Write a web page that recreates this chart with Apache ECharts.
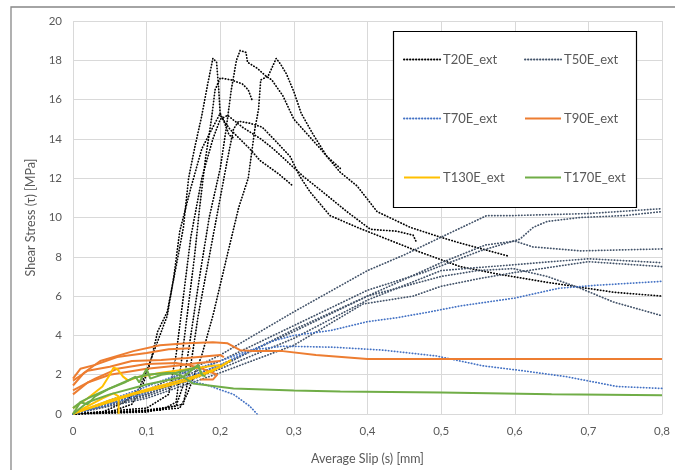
<!DOCTYPE html>
<html>
<head>
<meta charset="utf-8">
<script src="https://cdn.jsdelivr.net/npm/echarts@6/dist/echarts.min.js"></script>
<style>
  html, body { margin: 0; padding: 0; background: #ffffff; }
  #chart { width: 675px; height: 470px; }
</style>
</head>
<body>
<div id="chart"></div>
<script>
// Slip [mm] vs shear stress [MPa] for each specimen, grouped by test temperature.
const xTicks = [0, 0.1, 0.2, 0.3, 0.4, 0.5, 0.6, 0.7, 0.8];
const yTicks = [0, 2, 4, 6, 8, 10, 12, 14, 16, 18, 20];

// T20E_ext specimens
const t20_1 = [[0,0],[0.05,0.1],[0.08,0.5],[0.095,1.5],[0.105,2.6],[0.115,4.2],[0.128,5.2],[0.14,7.5],[0.15,9.5],[0.157,12],[0.165,13.5],[0.175,15.2],[0.183,16.8],[0.19,18.1],[0.195,17.9],[0.198,16.5],[0.2,15.2],[0.213,14.5],[0.24,13.5],[0.254,12.9],[0.28,12.2],[0.299,11.6]];
const t20_2 = [[0,0],[0.1,0.2],[0.14,0.4],[0.15,1.5],[0.16,4],[0.172,7],[0.185,10],[0.2,12.5],[0.208,14.5],[0.215,16.5],[0.222,18.0],[0.227,18.5],[0.235,18.4],[0.237,17.9],[0.25,17.6],[0.262,17.2],[0.27,17.0],[0.285,16.2],[0.3,15.0],[0.336,13.5],[0.363,12.3],[0.386,11.6],[0.413,10.3],[0.458,9.5],[0.499,9.0],[0.526,8.7],[0.59,8.05]];
const t20_3 = [[0,0],[0.08,0.1],[0.145,0.3],[0.155,1],[0.175,3],[0.19,5],[0.209,8],[0.225,10.5],[0.238,12],[0.247,14.5],[0.252,15.5],[0.255,17],[0.265,17.2],[0.27,17.6],[0.276,18.1],[0.282,17.8],[0.29,17.3],[0.3,16.4],[0.31,15.3],[0.325,14.3],[0.345,13.1],[0.363,12.5]];
const t20_4 = [[0,0],[0.1,0.1],[0.15,0.5],[0.16,2.5],[0.17,5],[0.185,8],[0.2,11],[0.21,13],[0.218,14.5],[0.225,14.9],[0.24,14.8],[0.257,14.6],[0.275,13.9],[0.295,13.1],[0.308,12.1],[0.322,11.3],[0.349,10.1],[0.386,9.5],[0.413,9.1],[0.467,8.3],[0.526,7.5],[0.58,7.1],[0.644,6.7],[0.734,6.2],[0.8,6.0]];
const t20_5 = [[0,0],[0.12,0.2],[0.14,0.6],[0.145,2],[0.155,5],[0.165,8],[0.172,10.5],[0.18,13],[0.188,15],[0.193,16.5],[0.2,17.1],[0.215,17.0],[0.23,16.8],[0.238,16.5],[0.243,16.0]];
const t20_6 = [[0,0],[0.1,0.3],[0.13,1],[0.14,3],[0.15,6],[0.16,9],[0.175,12],[0.19,14],[0.2,15.0],[0.21,15.2],[0.23,14.6],[0.255,14.0],[0.272,13.5],[0.3125,12.1],[0.336,11.4],[0.372,10.3],[0.404,9.4],[0.44,9.3],[0.462,9.1],[0.467,8.7]];
const t20_7 = [[0,0],[0.04,0.1],[0.07,0.6],[0.09,1.3],[0.1,2.2],[0.115,3.7],[0.128,5],[0.137,7],[0.145,9.3],[0.16,11.5],[0.175,13.5],[0.19,14.6],[0.2,15.3],[0.205,14.9],[0.212,14.2],[0.22,14.0]];

// T50E_ext specimens
const t50_1 = [[0,0],[0.1,1.2],[0.2,3.0],[0.3,5.2],[0.4,7.3],[0.45,8.1],[0.5,9.0],[0.562,10.1],[0.6,10.1],[0.7,10.2],[0.8,10.45]];
const t50_2 = [[0,0],[0.1,1.1],[0.2,2.7],[0.3,4.5],[0.4,6.3],[0.476,7.2],[0.553,8.3],[0.607,8.9],[0.625,9.5],[0.644,9.8],[0.689,10.0],[0.75,10.1],[0.8,10.3]];
const t50_3 = [[0,0],[0.1,1.0],[0.2,2.5],[0.3,4.2],[0.4,6.0],[0.5,7.7],[0.56,8.6],[0.6,8.8],[0.625,8.5],[0.689,8.3],[0.8,8.4]];
const t50_4 = [[0,0],[0.1,0.9],[0.2,2.3],[0.3,3.85],[0.4,5.8],[0.5,7.3],[0.6,7.6],[0.7,7.9],[0.8,7.7]];
const t50_5 = [[0,0],[0.1,0.8],[0.2,2.1],[0.3,3.5],[0.394,5.6],[0.462,6.0],[0.5,6.5],[0.553,6.9],[0.6,7.2],[0.7,7.75],[0.8,7.5]];
const t50_6 = [[0,0],[0.1,1.0],[0.2,2.4],[0.3,4.3],[0.4,6.0],[0.5,7.0],[0.55,7.3],[0.598,7.4],[0.644,7.0],[0.689,6.4],[0.734,5.7],[0.8,5.0]];

// T70E_ext specimens
const t70_1 = [[0,0],[0.05,0.5],[0.1,1.1],[0.15,1.8],[0.2,2.5],[0.24,3.2],[0.27,3.7],[0.3,4.0],[0.35,4.25],[0.4,4.7],[0.44,4.9],[0.485,5.2],[0.526,5.5],[0.6,5.9],[0.66,6.4],[0.71,6.55],[0.8,6.75]];
const t70_2 = [[0,0],[0.05,0.7],[0.1,1.4],[0.15,2.1],[0.2,2.7],[0.24,3.25],[0.285,3.45],[0.353,3.4],[0.421,3.25],[0.458,3.1],[0.494,2.95],[0.557,2.45],[0.611,2.2],[0.67,1.9],[0.739,1.4],[0.8,1.3]];
const t70_3 = [[0,0],[0.05,0.6],[0.1,1.2],[0.14,1.6],[0.155,1.7],[0.18,1.5],[0.218,1.0],[0.24,0.4],[0.25,0]];

// T90E_ext specimens
const t90_1 = [[0,1.45],[0.015,2.1],[0.037,2.7],[0.082,3.2],[0.118,3.5],[0.155,3.6],[0.19,3.65],[0.21,3.6],[0.227,3.25],[0.245,3.2],[0.285,3.2],[0.33,3.0],[0.4,2.8],[0.6,2.8],[0.8,2.8]];
const t90_2 = [[0,1.7],[0.02,2.2],[0.05,2.4],[0.08,2.7],[0.12,2.75],[0.155,2.85],[0.2,3.0],[0.205,2.9]];
const t90_3 = [[0,1.2],[0.03,1.8],[0.06,2.3],[0.1,2.55],[0.14,2.6],[0.155,2.5],[0.173,2.35],[0.196,2.0],[0.19,1.75],[0.173,1.75]];
const t90_4 = [[0,1.0],[0.02,1.6],[0.05,2.0],[0.1,2.3],[0.14,2.45],[0.17,2.6],[0.2,2.7]];
const t90_5 = [[0,1.8],[0.01,2.3],[0.03,2.5],[0.06,2.9],[0.1,3.1],[0.13,3.3],[0.16,3.35]];

// T130E_ext specimens
const t130_1 = [[0,0.05],[0.04,0.5],[0.082,1.0],[0.12,1.35],[0.155,1.7],[0.19,2.2],[0.213,2.7]];
const t130_2 = [[0,0.3],[0.02,0.8],[0.04,1.4],[0.05,2.0],[0.055,2.35],[0.06,2.3],[0.068,1.9],[0.075,1.7],[0.09,1.9],[0.12,2.1],[0.16,2.3],[0.2,2.5]];
const t130_3 = [[0,0],[0.02,0.4],[0.04,0.8],[0.055,1.05],[0.062,0.9],[0.062,0]];
const t130_4 = [[0,0],[0.05,0.7],[0.1,1.25],[0.15,1.75],[0.18,2.1],[0.2,2.4],[0.215,2.75]];

// T170E_ext specimens
const t170_1 = [[0,0],[0.01,0.6],[0.02,0.8],[0.05,1.3],[0.08,1.8],[0.1,2.0],[0.13,2.1],[0.145,2.0],[0.163,1.55],[0.218,1.3],[0.3,1.2],[0.363,1.15],[0.5,1.1],[0.65,1.0],[0.8,0.95]];
const t170_2 = [[0,0.3],[0.01,0.6],[0.02,0.5],[0.03,0.9],[0.05,1.3],[0.07,1.6],[0.085,1.9],[0.09,1.6],[0.1,2.3],[0.105,1.8],[0.12,2.0],[0.14,2.1],[0.16,2.3],[0.17,2.4],[0.175,2.0]];
const t170_3 = [[0,0],[0.02,0.6],[0.05,1.0],[0.1,1.5],[0.15,1.9],[0.17,2.5],[0.175,2.0],[0.18,1.9]];

const groups = [
  { name: 'T20E_ext',  color: '#000000', dotted: true,  curves: [t20_1, t20_2, t20_3, t20_4, t20_5, t20_6, t20_7] },
  { name: 'T50E_ext',  color: '#44546A', dotted: true,  curves: [t50_1, t50_2, t50_3, t50_4, t50_5, t50_6] },
  { name: 'T70E_ext',  color: '#4472C4', dotted: true,  curves: [t70_1, t70_2, t70_3] },
  { name: 'T90E_ext',  color: '#ED7D31', dotted: false, curves: [t90_1, t90_2, t90_3, t90_4, t90_5] },
  { name: 'T130E_ext', color: '#FFC000', dotted: false, curves: [t130_1, t130_2, t130_3, t130_4] },
  { name: 'T170E_ext', color: '#70AD47', dotted: false, curves: [t170_1, t170_2, t170_3] }
];

const series = [];
groups.forEach(g => {
  g.curves.forEach(c => {
    series.push({
      name: g.name,
      type: 'line',
      data: c,
      symbol: 'none',
      smooth: false,
      color: g.color,
      lineStyle: {
        color: g.color,
        width: g.dotted ? 1.7 : 2,
        type: g.dotted ? [0.4, 2.6] : 'solid',
        cap: g.dotted ? 'round' : 'butt'
      },
      emphasis: { disabled: true }
    });
  });
});

const textColor = '#595959';
const fontFamily = 'Lato, "Open Sans", sans-serif';

// Legend: two columns, three rows, each entry placed on its own
const legendCols = [403, 524];
const legendRows = [60, 119, 178];
const legends = groups.map((g, i) => ({
  data: [g.name],
  left: legendCols[i % 2],
  top: legendRows[Math.floor(i / 2)] - 7,
  padding: 0,
  z: 5,
  itemWidth: 36,
  itemHeight: 14,
  itemGap: 0,
  selectedMode: false,
  itemStyle: { opacity: 0 },
  textStyle: { color: textColor, fontSize: 13, fontFamily: fontFamily, padding: [0, 0, 0, -2] }
}));

const chart = echarts.init(document.getElementById('chart'), null, { renderer: 'canvas' });
chart.setOption({
  animation: false,
  backgroundColor: '#ffffff',
  grid: { left: 73, right: 13, top: 21, bottom: 54, containLabel: false },
  graphic: [
    { type: 'rect', z: 0, shape: { x: 11, y: 7, width: 720, height: 520 },
      style: { fill: 'none', stroke: '#878787', lineWidth: 1.3 } },
    { type: 'rect', z: 3, shape: { x: 393.5, y: 31.5, width: 243, height: 176 },
      style: { fill: '#ffffff', stroke: '#000000', lineWidth: 1.2 } }
  ],
  legend: legends,
  xAxis: {
    type: 'value',
    min: xTicks[0],
    max: xTicks[xTicks.length - 1],
    interval: 0.1,
    name: 'Average Slip (s) [mm]',
    nameLocation: 'middle',
    nameGap: 38,
    nameTextStyle: { color: textColor, fontSize: 12.5, fontFamily: fontFamily },
    axisLine: { show: true, lineStyle: { color: '#d9d9d9', width: 1 } },
    axisTick: { show: false },
    axisLabel: {
      color: textColor, fontSize: 11.5, fontFamily: fontFamily, margin: 11,
      formatter: v => (Math.abs(v) < 1e-9 ? '0' : v.toFixed(1).replace('.', ','))
    },
    splitLine: { show: true, lineStyle: { color: '#d9d9d9', width: 1 } }
  },
  yAxis: {
    type: 'value',
    min: yTicks[0],
    max: yTicks[yTicks.length - 1],
    interval: 2,
    name: 'Shear Stress (τ) [MPa]',
    nameLocation: 'middle',
    nameGap: 36,
    nameTextStyle: { color: textColor, fontSize: 12.5, fontFamily: fontFamily },
    axisLine: { show: false },
    axisTick: { show: false },
    axisLabel: { color: textColor, fontSize: 11.5, fontFamily: fontFamily, margin: 11 },
    splitLine: { show: true, lineStyle: { color: '#d9d9d9', width: 1 } }
  },
  series: series
});
</script>
</body>
</html>
